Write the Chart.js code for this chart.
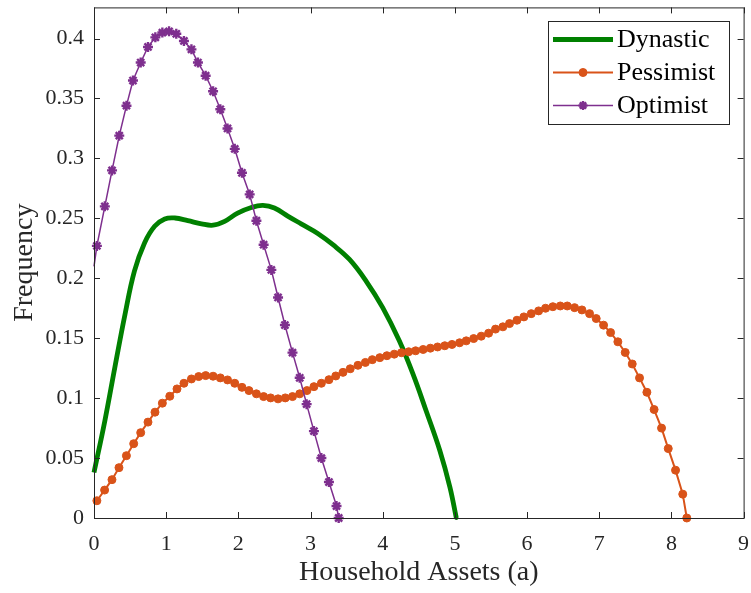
<!DOCTYPE html>
<html>
<head>
<meta charset="utf-8">
<script src="https://cdn.jsdelivr.net/npm/chart.js@4.4.0/dist/chart.umd.min.js"></script>
<style>
  body { margin: 0; background: #fff; }
</style>
</head>
<body>
<canvas id="myChart" width="751" height="593"></canvas>
<script>
// tick values
var xTicks = [0, 1, 2, 3, 4, 5, 6, 7, 8, 9];
var yTicks = [0, 0.05, 0.1, 0.15, 0.2, 0.25, 0.3, 0.35, 0.4];
var yTickLabels = ['0', '0.05', '0.1', '0.15', '0.2', '0.25', '0.3', '0.35', '0.4'];

// Dynastic (thick line, no markers)
var dynasticX = [0, 0.15, 0.29, 0.43, 0.56, 0.70, 0.84, 0.98, 1.12, 1.30, 1.49, 1.65, 1.81, 1.99, 2.18, 2.34, 2.50, 2.69, 2.87, 3.10, 3.31, 3.54, 3.77, 4.00, 4.23, 4.42, 4.60, 4.79, 4.93, 5.02];
var dynasticY = [0.038, 0.081, 0.126, 0.170, 0.206, 0.2295, 0.2434, 0.2495, 0.2503, 0.2481, 0.2454, 0.2443, 0.2475, 0.2544, 0.2591, 0.2608, 0.2586, 0.2517, 0.2454, 0.2374, 0.228, 0.2157, 0.1977, 0.1755, 0.1478, 0.120, 0.0897, 0.0565, 0.026, 0];

// Pessimist (circles)
var pessimistX = [0.04, 0.147, 0.249, 0.346, 0.449, 0.55, 0.647, 0.748, 0.845, 0.947, 1.05, 1.15, 1.246, 1.35, 1.45, 1.547, 1.65, 1.75, 1.85, 1.95,
  2.05, 2.147, 2.25, 2.35, 2.447, 2.55, 2.65, 2.75, 2.85, 2.95, 3.047, 3.15, 3.255, 3.35, 3.45, 3.55, 3.657, 3.76, 3.856, 3.96,
  4.058, 4.16, 4.26, 4.36, 4.456, 4.56, 4.66, 4.76, 4.86, 4.96, 5.065, 5.157, 5.26, 5.365, 5.467, 5.563, 5.665, 5.757, 5.86, 5.956,
  6.058, 6.16, 6.256, 6.357, 6.46, 6.557, 6.658, 6.76, 6.866, 6.958, 7.06, 7.157, 7.258, 7.36, 7.457, 7.558, 7.66, 7.76, 7.863, 7.956,
  8.057, 8.157, 8.213];
var pessimistY = [0.0144, 0.0233, 0.032, 0.042, 0.052, 0.062, 0.0712, 0.080, 0.0883, 0.0958, 0.1016, 0.1077, 0.1124, 0.116, 0.118, 0.1188, 0.1183, 0.1169, 0.1152, 0.1124,
  0.109, 0.1063, 0.1036, 0.1013, 0.1002, 0.0994, 0.1002, 0.1013, 0.1036, 0.1063, 0.1096, 0.1124, 0.1154, 0.1185, 0.1215, 0.1245, 0.1274, 0.1298, 0.1321, 0.1338,
  0.1354, 0.1367, 0.1379, 0.1387, 0.1395, 0.1406, 0.1417, 0.1427, 0.1437, 0.1448, 0.1462, 0.1478, 0.1497, 0.1517, 0.1542, 0.1576, 0.1595, 0.1622, 0.165, 0.1678,
  0.1705, 0.1728, 0.175, 0.1763, 0.1769, 0.1769, 0.1755, 0.1736, 0.1705, 0.1664, 0.1609, 0.1547, 0.147, 0.1381, 0.1285, 0.1169, 0.1049, 0.0905, 0.075, 0.0579,
  0.0399, 0.0199, 0];

// Optimist (asterisks), first point is the line start without a marker
var optimistX = [0, 0.04, 0.15, 0.25, 0.35, 0.45, 0.54, 0.647, 0.748, 0.85, 0.947, 1.04, 1.14, 1.246, 1.35, 1.44, 1.547, 1.65, 1.75, 1.85,
  1.95, 2.05, 2.157, 2.25, 2.35, 2.457, 2.55, 2.645, 2.75, 2.85, 2.946, 3.047, 3.15, 3.255, 3.36, 3.39];
var optimistY = [0.210, 0.227, 0.260, 0.290, 0.319, 0.344, 0.365, 0.380, 0.393, 0.401, 0.405, 0.406, 0.404, 0.398, 0.391, 0.380, 0.369, 0.356, 0.341, 0.325,
  0.308, 0.288, 0.270, 0.248, 0.228, 0.207, 0.184, 0.161, 0.138, 0.117, 0.095, 0.0725, 0.050, 0.030, 0.010, 0];

var GREEN = '#008000', ORANGE = '#D95319', PURPLE = '#7E2F8E', AXIS = '#262626';
var SERIF = '"Liberation Serif", "Times New Roman", serif';

function pts(xs, ys) {
  return xs.map(function (x, i) { return { x: x, y: ys[i] }; });
}

var optimistRadius = optimistX.map(function (x, i) { return i === 0 ? 0 : 5; });
var dynasticRadius = dynasticX.map(function (x, i) { return i === dynasticX.length - 1 ? 2 : 0; });

// box with inward ticks on all four sides
var frameTicks = {
  id: 'frameTicks',
  afterDatasetsDraw: function (chart) {
    var ctx = chart.ctx, a = chart.chartArea;
    var xs = chart.scales.x, ys = chart.scales.y;
    var len = 6;
    ctx.save();
    ctx.strokeStyle = AXIS;
    ctx.lineWidth = 1;
    ctx.strokeRect(a.left + 0.5, a.top + 0.5, a.right - a.left, a.bottom - a.top);
    ctx.beginPath();
    xTicks.forEach(function (v) {
      var px = Math.round(xs.getPixelForValue(v)) + 0.5;
      ctx.moveTo(px, a.bottom); ctx.lineTo(px, a.bottom - len);
      ctx.moveTo(px, a.top); ctx.lineTo(px, a.top + len);
    });
    yTicks.forEach(function (v) {
      var py = Math.round(ys.getPixelForValue(v)) + 0.5;
      ctx.moveTo(a.left, py); ctx.lineTo(a.left + len, py);
      ctx.moveTo(a.right, py); ctx.lineTo(a.right - len, py);
    });
    ctx.stroke();
    ctx.restore();
  }
};

// legend inside the top right corner
var boxLegend = {
  id: 'boxLegend',
  afterDraw: function (chart) {
    var ctx = chart.ctx;
    var left = 548, top = 21, w = 181, h = 103;
    ctx.save();
    ctx.fillStyle = '#fff';
    ctx.fillRect(left, top, w, h);
    ctx.strokeStyle = AXIS;
    ctx.lineWidth = 1;
    ctx.strokeRect(left + 0.5, top + 0.5, w, h);
    var rows = [39.5, 72.5, 105.5];
    chart.data.datasets.forEach(function (ds, i) {
      var y = rows[i];
      ctx.strokeStyle = ds.borderColor;
      ctx.lineWidth = ds.borderWidth;
      ctx.beginPath();
      ctx.moveTo(553, y); ctx.lineTo(613, y);
      ctx.stroke();
      if (i > 0) {
        ctx.fillStyle = ds.pointBackgroundColor;
        ctx.strokeStyle = ds.pointBorderColor;
        ctx.lineWidth = ds.pointBorderWidth;
        Chart.helpers.drawPoint(ctx, {
          pointStyle: ds.pointStyle, radius: ds.legendRadius, rotation: 0,
          borderWidth: ds.pointBorderWidth
        }, 583, y);
      }
      ctx.fillStyle = '#000';
      ctx.font = '26px ' + SERIF;
      ctx.textBaseline = 'middle';
      ctx.fillText(ds.label, 617, y + 1);
    });
    ctx.restore();
  }
};

const ctx = document.getElementById('myChart');
new Chart(ctx, {
  type: 'scatter',
  data: {
    datasets: [
      {
        label: 'Dynastic', data: pts(dynasticX, dynasticY), showLine: true,
        borderColor: GREEN, backgroundColor: GREEN, borderWidth: 4.8,
        pointRadius: dynasticRadius, pointBackgroundColor: GREEN, pointBorderWidth: 0,
        tension: 0.4, order: 3, clip: false
      },
      {
        label: 'Pessimist', data: pts(pessimistX, pessimistY), showLine: true,
        borderColor: ORANGE, backgroundColor: ORANGE, borderWidth: 2,
        pointStyle: 'circle', pointRadius: 4, legendRadius: 4, pointBorderWidth: 1,
        pointBackgroundColor: ORANGE, pointBorderColor: ORANGE,
        tension: 0, order: 2, clip: false
      },
      {
        label: 'Optimist', data: pts(optimistX, optimistY), showLine: true,
        borderColor: PURPLE, backgroundColor: PURPLE, borderWidth: 1.5,
        pointStyle: 'star', pointRadius: optimistRadius, legendRadius: 4.5, pointBorderWidth: 2.4,
        pointBackgroundColor: PURPLE, pointBorderColor: PURPLE,
        tension: 0, order: 1, clip: false
      }
    ]
  },
  options: {
    responsive: false,
    animation: false,
    devicePixelRatio: 1,
    layout: { padding: { top: 5, right: 7, left: 0, bottom: 0 } },
    plugins: {
      legend: { display: false },
      tooltip: { enabled: false }
    },
    scales: {
      x: {
        type: 'linear', min: 0, max: 9,
        grid: { display: false },
        border: { display: false },
        afterBuildTicks: function (scale) { scale.ticks = xTicks.map(function (v) { return { value: v }; }); },
        afterFit: function (scale) {
          scale.height = 75;
          scale.paddingLeft = 0; scale.paddingRight = 0;
        },
        ticks: { color: AXIS, font: { family: SERIF, size: 22 }, padding: 5, maxRotation: 0 },
        title: { display: true, text: 'Household Assets (a)', color: AXIS, font: { family: SERIF, size: 28 }, padding: { top: 0, bottom: 4 } }
      },
      y: {
        type: 'linear', min: 0, max: 0.426,
        grid: { display: false },
        border: { display: false },
        afterBuildTicks: function (scale) { scale.ticks = yTicks.map(function (v) { return { value: v }; }); },
        afterFit: function (scale) {
          scale.width = 94;
          scale.paddingTop = 0; scale.paddingBottom = 0;
        },
        ticks: {
          color: AXIS, font: { family: SERIF, size: 22 }, padding: 2,
          callback: function (v, i) { return yTickLabels[i]; }
        },
        title: { display: true, text: 'Frequency', color: AXIS, font: { family: SERIF, size: 28 }, padding: { top: 8, bottom: 0 } }
      }
    }
  },
  plugins: [frameTicks, boxLegend]
});
</script>
</body>
</html>
